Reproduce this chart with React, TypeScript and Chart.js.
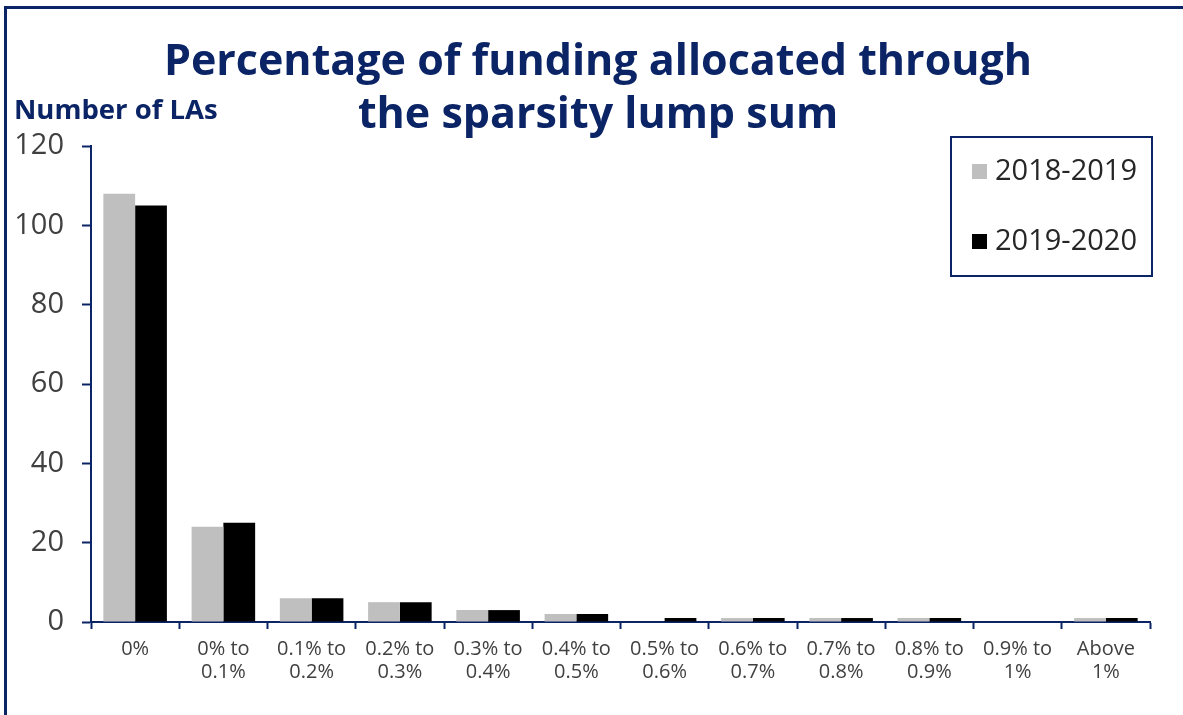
import React, { useEffect, useRef } from "react";
import { Chart, registerables } from "chart.js";

Chart.register(...registerables);

const categories: string[][] = [
  ["0%"],
  ["0% to", "0.1%"],
  ["0.1% to", "0.2%"],
  ["0.2% to", "0.3%"],
  ["0.3% to", "0.4%"],
  ["0.4% to", "0.5%"],
  ["0.5% to", "0.6%"],
  ["0.6% to", "0.7%"],
  ["0.7% to", "0.8%"],
  ["0.8% to", "0.9%"],
  ["0.9% to", "1%"],
  ["Above", "1%"],
];
const series2018: number[] = [108, 24, 6, 5, 3, 2, 0, 1, 1, 1, 0, 1];
const series2019: number[] = [105, 25, 6, 5, 3, 2, 1, 1, 1, 1, 0, 1];
const seriesLabels: string[] = ["2018-2019", "2019-2020"];
const titleLines: string[] = ["Percentage of funding allocated through", "the sparsity lump sum"];
const yAxisLabel = "Number of LAs";

const NAVY = "#0b2466";
const GREY = "#bfbfbf";
const BLACK = "#000000";
const FONT = "'Open Sans', 'DejaVu Sans', sans-serif";

const decorPlugin = {
  id: "decor",
  beforeDraw(chart: any) {
    const ctx = chart.ctx;
    ctx.save();
    ctx.fillStyle = "#ffffff";
    ctx.fillRect(0, 0, chart.width, chart.height);
    ctx.strokeStyle = NAVY;
    ctx.lineWidth = 3;
    ctx.strokeRect(5.5, 7.5, chart.width + 50, chart.height + 50);
    ctx.restore();
  },
  afterDraw(chart: any) {
    const ctx = chart.ctx;
    ctx.save();
    // y-axis heading
    ctx.fillStyle = NAVY;
    ctx.font = `bold 27.5px ${FONT}`;
    ctx.textAlign = "left";
    ctx.textBaseline = "middle";
    ctx.fillText(yAxisLabel, 14, 111);
    // legend box
    ctx.strokeStyle = NAVY;
    ctx.lineWidth = 2;
    ctx.strokeRect(951, 137, 201, 139);
    const rowY = [171, 241];
    chart.data.datasets.forEach((ds: any, i: number) => {
      ctx.fillStyle = ds.backgroundColor;
      ctx.fillRect(972, rowY[i] - 7, 15, 15);
      ctx.fillStyle = "#262626";
      ctx.font = `29px ${FONT}`;
      ctx.textAlign = "left";
      ctx.textBaseline = "middle";
      ctx.fillText(ds.label, 995, rowY[i] + 1);
    });
    ctx.restore();
  },
};

export default function App() {
  const ref = useRef<HTMLCanvasElement | null>(null);
  useEffect(() => {
    if (!ref.current) return;
    const chart = new Chart(ref.current, {
      type: "bar",
      data: {
        labels: categories,
        datasets: [
          { label: seriesLabels[0], data: series2018, backgroundColor: GREY, categoryPercentage: 0.72, barPercentage: 1.0 },
          { label: seriesLabels[1], data: series2019, backgroundColor: BLACK, categoryPercentage: 0.72, barPercentage: 1.0 },
        ],
      },
      options: {
        animation: false,
        responsive: false,
        maintainAspectRatio: false,
        layout: { padding: { left: 13, right: 0, top: 0, bottom: 0 } },
        plugins: {
          legend: { display: false },
          tooltip: { enabled: false },
          title: {
            display: true,
            text: titleLines,
            color: NAVY,
            font: { family: FONT, size: 43, weight: "bold", lineHeight: 1.233 },
            padding: { top: 36, bottom: 4 },
          },
        },
        scales: {
          x: {
            grid: {
              display: true,
              offset: true,
              drawOnChartArea: false,
              drawTicks: true,
              tickLength: 7,
              tickColor: NAVY,
              tickWidth: 2,
            },
            border: { display: true, color: NAVY, width: 2 },
            ticks: {
              color: "#404040",
              font: { family: FONT, size: 20, lineHeight: 1.15 },
              padding: 9,
              maxRotation: 0,
              autoSkip: false,
            },
            afterFit(scale: any) {
              scale.height = 93;
            },
          },
          y: {
            min: 0,
            max: 120,
            ticks: {
              stepSize: 20,
              color: "#404040",
              font: { family: FONT, size: 29 },
              padding: 18,
            },
            grid: {
              display: true,
              drawOnChartArea: false,
              drawTicks: true,
              tickLength: 9,
              tickColor: NAVY,
              tickWidth: 2,
            },
            border: { display: true, color: NAVY, width: 2 },
            afterFit(scale: any) {
              scale.width = 78;
            },
          },
          yRight: {
            position: "right",
            display: true,
            min: 0,
            max: 120,
            ticks: { display: false },
            grid: { display: false, drawTicks: false },
            border: { display: false },
            afterFit(scale: any) {
              scale.width = 33;
            },
          },
        },
      },
      plugins: [decorPlugin],
    } as any);
    return () => chart.destroy();
  }, []);
  return (
    <div style={{ position: "fixed", left: 0, top: 0, width: 1183, height: 715, background: "#fff" }}>
      <canvas ref={ref} width={1183} height={715} style={{ display: "block" }} />
    </div>
  );
}
